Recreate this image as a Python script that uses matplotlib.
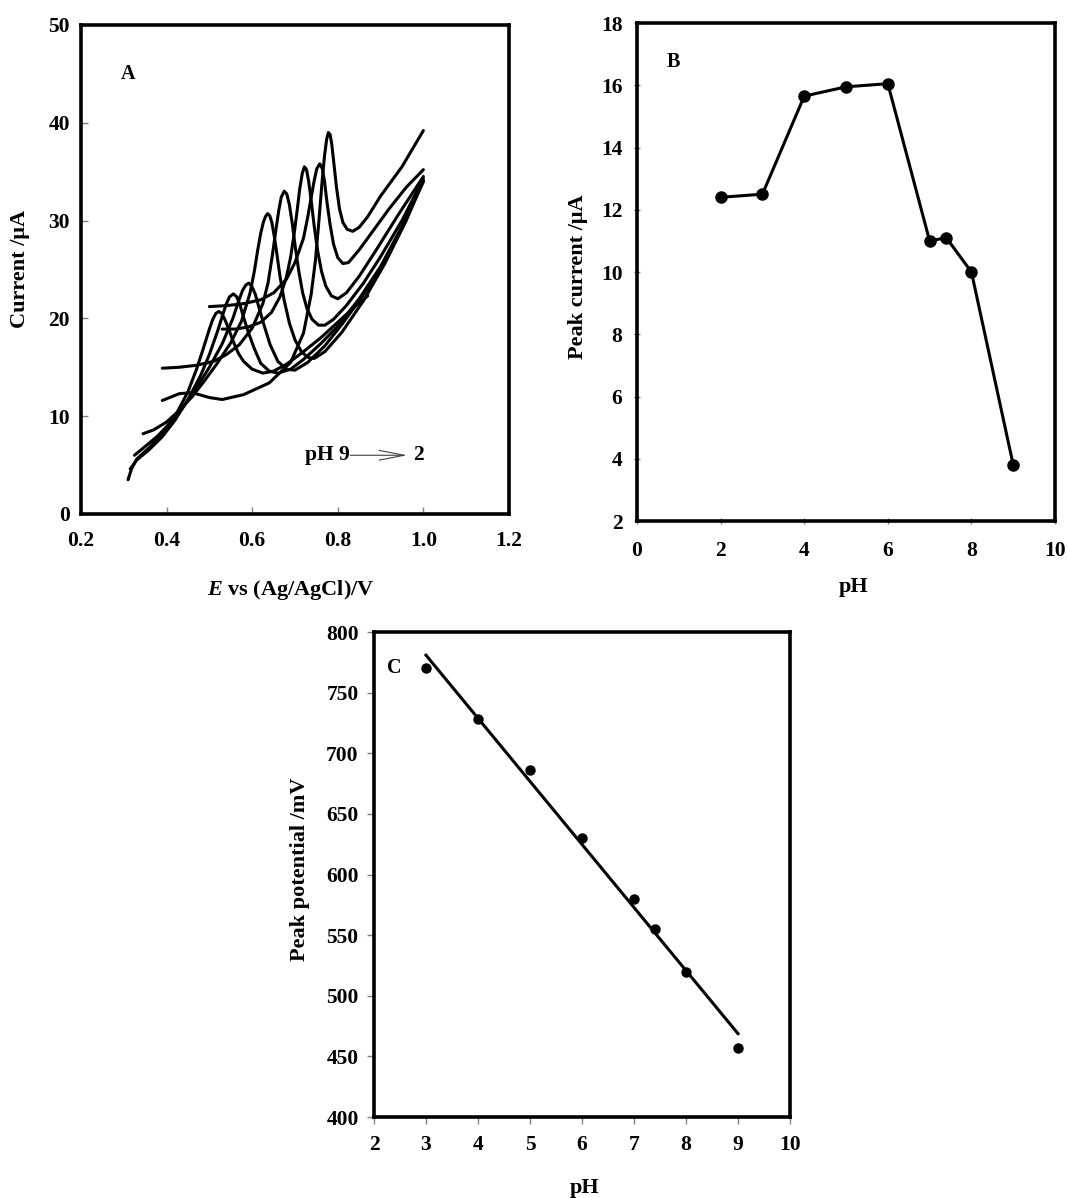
import matplotlib
matplotlib.use('Agg')
import matplotlib.pyplot as plt
import numpy as np

plt.rcParams['font.family'] = ['Liberation Serif', 'DejaVu Serif']
plt.rcParams['font.weight'] = 'bold'
plt.rcParams['axes.labelweight'] = 'bold'
plt.rcParams['mathtext.fontset'] = 'custom'
plt.rcParams['mathtext.it'] = 'Liberation Serif:italic:bold'
plt.rcParams['mathtext.rm'] = 'Liberation Serif:bold'

# (A) DPV curves recorded from pH 9 down to pH 2
e_c1 = [0.310, 0.318, 0.33, 0.36, 0.39, 0.42, 0.45, 0.47, 0.485, 0.50, 0.508, 0.515, 0.522, 0.529,
        0.537, 0.546, 0.556, 0.568, 0.58, 0.60, 0.625, 0.65, 0.68, 0.72, 0.76, 0.80, 0.84, 0.87]
i_c1 = [3.5, 4.6, 5.6, 6.8, 8.2, 10.0, 12.5, 14.8, 16.8, 18.9, 19.9, 20.5, 20.7, 20.5,
        19.8, 18.8, 17.6, 16.4, 15.6, 14.8, 14.4, 14.6, 15.3, 16.6, 18.0, 19.6, 21.2, 22.3]

e_c2 = [0.315, 0.33, 0.36, 0.39, 0.42, 0.45, 0.48, 0.50, 0.52, 0.53, 0.539, 0.547, 0.556, 0.564,
        0.572, 0.58, 0.59, 0.605, 0.62, 0.64, 0.66, 0.69, 0.72, 0.76, 0.80, 0.85, 0.90, 0.95, 1.0]
i_c2 = [4.6, 5.5, 6.6, 7.9, 9.6, 11.7, 14.2, 16.3, 18.8, 20.2, 21.4, 22.2, 22.5, 22.2,
        21.3, 20.1, 18.7, 16.9, 15.4, 14.6, 14.4, 14.8, 15.8, 17.4, 19.2, 22.0, 25.3, 29.4, 34.0]

e_c3 = [0.325, 0.35, 0.38, 0.41, 0.44, 0.47, 0.50, 0.53, 0.555, 0.567, 0.577, 0.585, 0.592, 0.599,
        0.607, 0.616, 0.627, 0.642, 0.66, 0.68, 0.70, 0.73, 0.77, 0.81, 0.85, 0.90, 0.95, 1.0]
i_c3 = [6.0, 6.9, 8.0, 9.4, 11.0, 12.9, 15.0, 17.4, 20.0, 21.6, 22.8, 23.4, 23.6, 23.3,
        22.5, 21.1, 19.4, 17.3, 15.6, 14.8, 14.7, 15.5, 17.2, 19.4, 21.8, 25.0, 29.2, 34.0]

e_c4 = [0.345, 0.37, 0.40, 0.43, 0.46, 0.49, 0.52, 0.55, 0.575, 0.595, 0.605, 0.613, 0.62, 0.626,
        0.631, 0.636, 0.641, 0.646, 0.652, 0.658, 0.665, 0.675, 0.687, 0.70, 0.715, 0.73, 0.745,
        0.77, 0.81, 0.86, 0.91, 0.96, 1.0]
i_c4 = [8.2, 8.6, 9.4, 10.6, 12.0, 13.7, 15.5, 17.5, 19.7, 22.6, 24.8, 27.0, 28.7, 29.8,
        30.4, 30.7, 30.5, 29.8, 28.3, 26.5, 24.3, 21.8, 19.5, 17.8, 16.6, 16.0, 15.9,
        16.6, 18.6, 21.8, 25.6, 30.0, 34.1]

e_c5 = [0.39, 0.43, 0.47, 0.51, 0.54, 0.57, 0.60, 0.625, 0.637, 0.647, 0.655, 0.662, 0.668, 0.675,
        0.681, 0.687, 0.694, 0.701, 0.709, 0.718, 0.728, 0.74, 0.755, 0.77, 0.79, 0.82, 0.86,
        0.90, 0.95, 1.0]
i_c5 = [14.9, 15.0, 15.2, 15.6, 16.3, 17.3, 19.0, 21.5, 23.6, 26.4, 28.9, 31.0, 32.4, 33.0,
        32.7, 31.6, 29.6, 27.2, 24.8, 22.6, 21.0, 19.9, 19.3, 19.3, 19.9, 21.3, 23.6,
        26.3, 30.0, 34.3]

e_c6 = [0.53, 0.56, 0.59, 0.62, 0.645, 0.665, 0.68, 0.69, 0.698, 0.705, 0.711, 0.717, 0.722, 0.727,
        0.732, 0.738, 0.745, 0.753, 0.762, 0.772, 0.785, 0.80, 0.82, 0.85, 0.89, 0.94, 1.0]
i_c6 = [18.9, 18.9, 19.1, 19.6, 20.6, 22.2, 24.2, 26.3, 28.6, 31.0, 33.2, 34.8, 35.5, 35.2,
        34.0, 32.0, 29.4, 26.9, 24.8, 23.3, 22.3, 22.0, 22.6, 24.3, 27.0, 30.5, 34.5]

e_c7 = [0.50, 0.54, 0.58, 0.62, 0.65, 0.68, 0.70, 0.72, 0.73, 0.738, 0.745, 0.751, 0.758, 0.764,
        0.769, 0.775, 0.782, 0.79, 0.80, 0.812, 0.825, 0.85, 0.88, 0.92, 0.96, 1.0]
i_c7 = [21.2, 21.3, 21.5, 21.9, 22.6, 24.0, 25.7, 28.2, 30.4, 32.4, 34.1, 35.3, 35.8, 35.3,
        34.0, 31.8, 29.6, 27.6, 26.2, 25.6, 25.7, 27.0, 28.8, 31.2, 33.4, 35.2]

e_c8 = [0.39, 0.43, 0.46, 0.50, 0.53, 0.58, 0.64, 0.69, 0.72, 0.738, 0.748, 0.756, 0.763, 0.769,
        0.774, 0.778, 0.782, 0.786, 0.791, 0.797, 0.804, 0.812, 0.822, 0.835, 0.85, 0.87, 0.90,
        0.95, 1.0]
i_c8 = [11.6, 12.3, 12.4, 11.9, 11.7, 12.2, 13.4, 15.5, 18.5, 22.5, 26.0, 30.0, 33.8, 36.6,
        38.3, 39.0, 38.8, 37.8, 35.8, 33.4, 31.2, 29.8, 29.1, 28.9, 29.3, 30.4, 32.5,
        35.5, 39.2]

# (B) peak current vs pH
ph_b = [2, 3, 4, 5, 6, 7, 7.4, 8, 9]
ipk_b = [12.4, 12.5, 15.65, 15.95, 16.05, 11.0, 11.1, 10.0, 3.8]

# (C) peak potential vs pH
ph_c = [3, 4, 5, 6, 7, 7.4, 8, 9]
epk_c = [770, 728, 686, 630, 580, 555, 520, 457]

TICK_FS = 15.5
LABEL_FS = 16


def style_axes(ax, direction):
    for sp in ax.spines.values():
        sp.set_linewidth(2.6)
        sp.set_color('black')
    ax.tick_params(direction=direction, length=5, width=1, color='#808080',
                   labelsize=TICK_FS, top=False, right=False)
    for lab in ax.get_xticklabels() + ax.get_yticklabels():
        lab.set_fontweight('bold')


fig = plt.figure(figsize=(10.67, 11.98), dpi=100)

# ---- A ----
axA = fig.add_axes([0.0759, 0.5710, 0.4011, 0.4082])
curves = [(e_c1, i_c1), (e_c2, i_c2), (e_c3, i_c3), (e_c4, i_c4),
          (e_c5, i_c5), (e_c6, i_c6), (e_c7, i_c7), (e_c8, i_c8)]
for e, i in curves:
    axA.plot(e, i, color='black', lw=2.2, solid_joinstyle='round', solid_capstyle='round')
axA.set_xlim(0.2, 1.2)
axA.set_ylim(0, 50)
axA.set_xticks(np.arange(0.2, 1.21, 0.2))
axA.set_xticklabels([f'{v:.1f}' for v in np.arange(0.2, 1.21, 0.2)])
axA.set_yticks(range(0, 51, 10))
style_axes(axA, 'in')
axA.tick_params(axis='x', pad=12)
axA.tick_params(axis='y', pad=8)
axA.set_xlabel(r'$\mathit{E}$ vs (Ag/AgCl)/V', fontsize=LABEL_FS, va='center')
axA.xaxis.set_label_coords(0.49, -0.155)
axA.set_ylabel('Current /μA', fontsize=LABEL_FS, va='center')
axA.yaxis.set_label_coords(-0.1425, 0.5)
axA.text(0.31, 45, 'A', fontsize=14.5, fontweight='bold', ha='center', va='center')
axA.text(0.827, 6.0, 'pH 9', fontsize=TICK_FS, fontweight='bold', ha='right', va='center')
axA.annotate('', xy=(0.962, 6.0), xytext=(0.829, 6.0),
             arrowprops=dict(arrowstyle='->,head_length=1.8,head_width=0.35',
                             lw=0.8, color='#404040', mutation_scale=10,
                             shrinkA=0, shrinkB=0))
axA.text(0.975, 6.0, '2', fontsize=TICK_FS, fontweight='bold', ha='left', va='center')

# ---- B ----
axB = fig.add_axes([0.5970, 0.5651, 0.3918, 0.4157])
axB.plot(ph_b, ipk_b, color='black', lw=2.2, marker='o', markersize=8)
axB.set_xlim(0, 10)
axB.set_ylim(2, 18)
axB.set_xticks(range(0, 11, 2))
axB.set_yticks(range(2, 19, 2))
style_axes(axB, 'inout')
axB.tick_params(axis='x', pad=12)
axB.tick_params(axis='y', pad=8)
axB.set_xlabel('pH', fontsize=LABEL_FS, va='center')
axB.xaxis.set_label_coords(0.518, -0.1325)
axB.set_ylabel('Peak current /μA', fontsize=LABEL_FS, va='center')
axB.yaxis.set_label_coords(-0.14, 0.49)
axB.text(0.86, 16.75, 'B', fontsize=14.5, fontweight='bold', ha='center', va='center')

# ---- C ----
axC = fig.add_axes([0.3505, 0.0676, 0.3899, 0.4048])
axC.plot(ph_c, epk_c, 'o', color='black', markersize=6.5)
slope, icpt = np.polyfit(ph_c, epk_c, 1)
fit_x = np.array([ph_c[0], ph_c[-1]])
axC.plot(fit_x, slope * fit_x + icpt, color='black', lw=2.2)
axC.set_xlim(2, 10)
axC.set_ylim(400, 800)
axC.set_xticks(range(2, 11))
axC.set_yticks(range(400, 801, 50))
style_axes(axC, 'out')
axC.tick_params(axis='x', pad=8)
axC.tick_params(axis='y', pad=6)
axC.set_xlabel('pH', fontsize=LABEL_FS, va='center')
axC.xaxis.set_label_coords(0.507, -0.146)
axC.set_ylabel('Peak potential /mV', fontsize=LABEL_FS, va='center')
axC.yaxis.set_label_coords(-0.178, 0.51)
axC.text(2.40, 770, 'C', fontsize=14.5, fontweight='bold', ha='center', va='center')

fig.savefig('out.png', dpi=100, facecolor='white')
